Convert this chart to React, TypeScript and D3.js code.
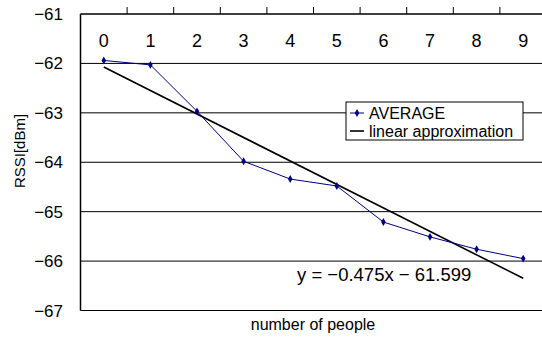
import React from "react";
import * as d3 from "d3";

const categories = [0, 1, 2, 3, 4, 5, 6, 7, 8, 9];
const averageValues = [-61.94, -62.03, -62.97, -63.98, -64.34, -64.48, -65.21, -65.51, -65.76, -65.95];
const yTicks = [-61, -62, -63, -64, -65, -66, -67];
const trendSlope = -0.475;
const trendIntercept = -61.599;
const seriesNames = ["AVERAGE", "linear approximation"];
const equationLabel = "y = \u22120.475x \u2212 61.599";
const xTitle = "number of people";
const yTitle = "RSSI[dBm]";

const W = 542;
const H = 337;
const left = 80.5;
const top = 14;
const bottom = 310.5;
const band = 46.6;
const FONT = "'Liberation Sans', Arial, sans-serif";

export default function App() {
  const x = d3
    .scaleBand<number>()
    .domain(categories)
    .range([left, left + band * categories.length])
    .paddingInner(0)
    .paddingOuter(0);
  const y = d3.scaleLinear().domain([-67, -61]).range([bottom, top]);
  const cx = (c: number) => (x(c) as number) + x.bandwidth() / 2;

  const avgLine = d3
    .line<number>()
    .x((_, i) => cx(categories[i]))
    .y((v) => y(v))(averageValues) as string;

  const trendPts = [categories[0], categories[categories.length - 1]].map((c) => {
    const idx = categories.indexOf(c) + 1;
    return [cx(c), y(trendSlope * idx + trendIntercept)];
  });
  const trendPath = d3.line()(trendPts as [number, number][]) as string;

  const diamond = d3.symbol().type(d3.symbolDiamond).size(18)() as string;
  const rightEdge = left + band * categories.length;

  return (
    <svg
      width={W}
      height={H}
      style={{ position: "absolute", left: 0, top: 0, background: "#fff" }}
      fontFamily={FONT}
    >
      <rect x={0} y={0} width={W} height={H} fill="#fff" />
      {yTicks.slice(1).map((t) => (
        <line key={t} x1={left} x2={rightEdge} y1={y(t)} y2={y(t)} stroke="#000" strokeWidth={1} />
      ))}
      <line x1={left} x2={rightEdge} y1={top} y2={top} stroke="#000" strokeWidth={1.5} />
      {categories.map((c) => (
        <line
          key={"tk" + c}
          x1={(x(c) as number) + band}
          x2={(x(c) as number) + band}
          y1={top}
          y2={top - 7}
          stroke="#000"
          strokeWidth={1}
        />
      ))}
      <line x1={left} x2={left} y1={top} y2={bottom} stroke="#000" strokeWidth={1.5} />
      {yTicks.map((t) => (
        <text key={"yl" + t} x={63} y={y(t) + 6} textAnchor="end" fontSize={17} fill="#000">
          {String(t).replace("-", "\u2212")}
        </text>
      ))}
      {categories.map((c) => (
        <text key={"xl" + c} x={cx(c)} y={47} textAnchor="middle" fontSize={18} fill="#000">
          {c}
        </text>
      ))}
      <path d={trendPath} fill="none" stroke="#000" strokeWidth={1.6} />
      <path d={avgLine} fill="none" stroke="#000080" strokeWidth={1} />
      {averageValues.map((v, i) => (
        <path key={"m" + i} d={diamond} transform={`translate(${cx(categories[i])},${y(v)})`} fill="#000080" />
      ))}
      <rect x={346} y={102} width={177} height={38} fill="#fff" stroke="#000" strokeWidth={1} />
      <line x1={350} x2={364} y1={113} y2={113} stroke="#000080" strokeWidth={1} />
      <path d={diamond} transform="translate(357,113)" fill="#000080" />
      <text x={369} y={119} fontSize={16} fill="#000">{seriesNames[0]}</text>
      <line x1={350} x2={364} y1={131} y2={131} stroke="#000" strokeWidth={1.6} />
      <text x={369} y={137} fontSize={16} fill="#000">{seriesNames[1]}</text>
      <text x={297} y={281} fontSize={18.5} fill="#000">{equationLabel}</text>
      <text x={313} y={330} textAnchor="middle" fontSize={16} fill="#000">{xTitle}</text>
      <text transform="translate(25,151) rotate(-90)" textAnchor="middle" fontSize={15} fill="#000">
        {yTitle}
      </text>
    </svg>
  );
}
